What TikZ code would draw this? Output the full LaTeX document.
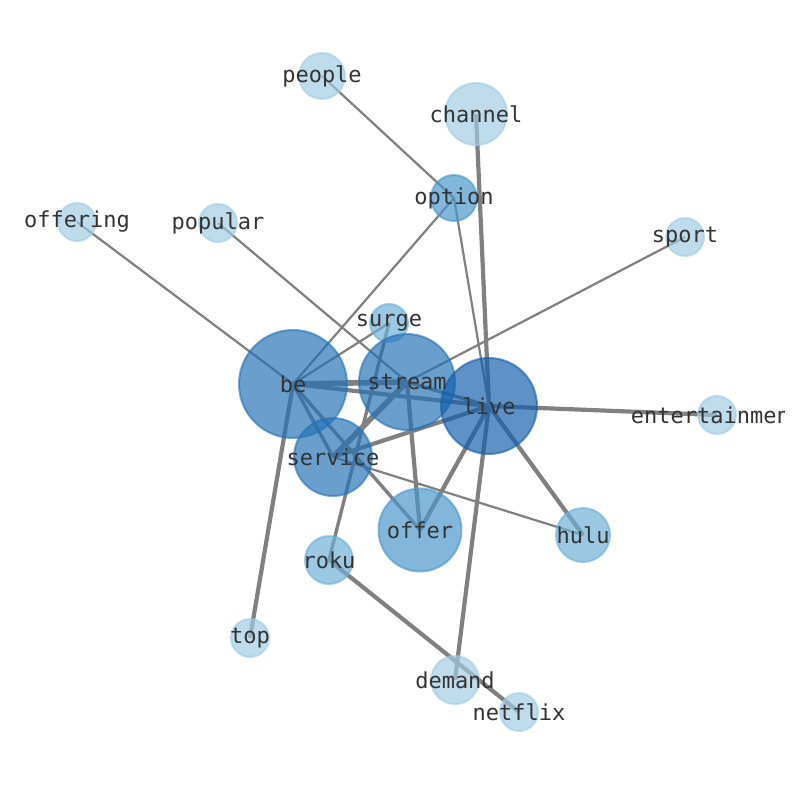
\documentclass[tikz,border=0pt]{standalone}
\usepackage{fontspec}
\newfontfamily\labelfont{DejaVu Sans Mono}
\definecolor{nA}{RGB}{160,204,228}
\definecolor{nB}{RGB}{108,176,216}
\definecolor{nC}{RGB}{72,150,202}
\definecolor{nD}{RGB}{36,114,182}
\definecolor{nE}{RGB}{18,94,170}
\definecolor{edgec}{RGB}{128,128,128}
\definecolor{txt}{RGB}{51,51,51}
\tikzset{
  vert/.style={circle, inner sep=0pt, draw=#1, fill=#1, fill opacity=0.68, draw opacity=0.6, line width=2pt},
  lbl/.style={font=\labelfont\fontsize{22}{26}\selectfont, text=txt, inner sep=0pt, anchor=center},
  ethin/.style={draw=edgec, line width=2.2pt},
  emid/.style={draw=edgec, line width=3.4pt},
  ethick/.style={draw=edgec, line width=4.2pt},
  efat/.style={draw=edgec, line width=5.6pt}
}
\begin{document}
\begin{tikzpicture}[x=1pt,y=-1pt]
\useasboundingbox (0,0) rectangle (794,790);
\clip (0,0) rectangle (794,790);
\fill[white] (0,0) rectangle (794,790);
% positions
\coordinate (people) at (322,76);
\coordinate (channel) at (476,114);
\coordinate (option) at (454,198);
\coordinate (offering) at (77,222);
\coordinate (popular) at (218,223);
\coordinate (sport) at (685,237);
\coordinate (surge) at (389,323);
\coordinate (be) at (293,384);
\coordinate (stream) at (407,382);
\coordinate (live) at (489,406);
\coordinate (entertainment) at (717,415);
\coordinate (service) at (333,457);
\coordinate (offer) at (420,530);
\coordinate (hulu) at (583,535);
\coordinate (roku) at (329,560);
\coordinate (top) at (250,638);
\coordinate (demand) at (455,680);
\coordinate (netflix) at (519,712);
% edges
\draw[ethin] (people) -- (option);
\draw[ethin] (offering) -- (be);
\draw[ethin] (popular) -- (stream);
\draw[ethin] (sport) -- (stream);
\draw[ethin] (option) -- (be);
\draw[ethin] (option) -- (live);
\draw[ethin] (be) -- (surge);
\draw[ethin] (service) -- (hulu);
\draw[ethick] (channel) -- (live);
\draw[efat] (be) -- (stream);
\draw[ethick] (be) -- (live);
\draw[emid] (stream) -- (live);
\draw[emid] (be) -- (service);
\draw[emid] (be) -- (offer);
\draw[ethick] (be) -- (top);
\draw[efat] (service) -- (stream);
\draw[ethick] (service) -- (live);
\draw[emid] (surge) -- (roku);
\draw[ethick] (stream) -- (offer);
\draw[ethick] (live) -- (offer);
\draw[ethick] (live) -- (hulu);
\draw[ethick] (live) -- (demand);
\draw[ethick] (live) -- (entertainment);
\draw[ethick] (roku) -- (netflix);
% vertices
\node[vert=nA, minimum size=46pt] (people-v) at (people) {};
\node[vert=nA, minimum size=62pt] (channel-v) at (channel) {};
\node[vert=nC, minimum size=46pt] (option-v) at (option) {};
\node[vert=nA, minimum size=38pt] (offering-v) at (offering) {};
\node[vert=nA, minimum size=38pt] (popular-v) at (popular) {};
\node[vert=nA, minimum size=38pt] (sport-v) at (sport) {};
\node[vert=nB, minimum size=38pt] (surge-v) at (surge) {};
\node[vert=nD, minimum size=108pt] (be-v) at (be) {};
\node[vert=nD, minimum size=96pt] (stream-v) at (stream) {};
\node[vert=nE, minimum size=96pt] (live-v) at (live) {};
\node[vert=nA, minimum size=38pt] (entertainment-v) at (entertainment) {};
\node[vert=nD, minimum size=78pt] (service-v) at (service) {};
\node[vert=nC, minimum size=83pt] (offer-v) at (offer) {};
\node[vert=nB, minimum size=54pt] (hulu-v) at (hulu) {};
\node[vert=nB, minimum size=48pt] (roku-v) at (roku) {};
\node[vert=nA, minimum size=38pt] (top-v) at (top) {};
\node[vert=nA, minimum size=48pt] (demand-v) at (demand) {};
\node[vert=nA, minimum size=38pt] (netflix-v) at (netflix) {};
% labels
\node[lbl] (people-l) at (people) {people};
\node[lbl] (channel-l) at (channel) {channel};
\node[lbl] (option-l) at (option) {option};
\node[lbl] (offering-l) at (offering) {offering};
\node[lbl] (popular-l) at (popular) {popular};
\node[lbl] (sport-l) at (sport) {sport};
\node[lbl] (surge-l) at (surge) {surge};
\node[lbl] (be-l) at (be) {be};
\node[lbl] (stream-l) at (stream) {stream};
\node[lbl] (live-l) at (live) {live};
\begin{scope}
\clip (600,380) rectangle (784,450);
\node[lbl] (entertainment-l) at (entertainment) {entertainment};
\end{scope}
\node[lbl] (service-l) at (service) {service};
\node[lbl] (offer-l) at (offer) {offer};
\node[lbl] (hulu-l) at (hulu) {hulu};
\node[lbl] (roku-l) at (roku) {roku};
\node[lbl] (top-l) at (top) {top};
\node[lbl] (demand-l) at (demand) {demand};
\node[lbl] (netflix-l) at (netflix) {netflix};
\end{tikzpicture}
\end{document}
